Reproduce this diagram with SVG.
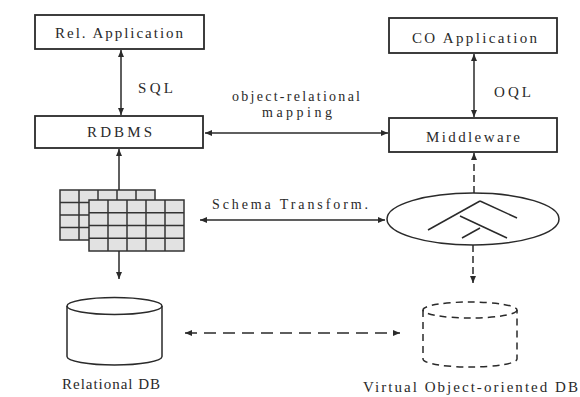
<svg xmlns="http://www.w3.org/2000/svg" width="580" height="397" viewBox="0 0 580 397">
<style>
.box{fill:none;stroke:#2a2a2a;stroke-width:1.8}
.t{font-family:"Liberation Serif","DejaVu Serif",serif;font-size:15px;fill:#2a2a2a}
.s{font-size:14px}
.ln{stroke:#2a2a2a;stroke-width:1.5;fill:none}
.d{stroke-dasharray:12 7}
.dv{stroke-dasharray:7 4}
.grid{stroke:#333;stroke-width:1.5;fill:#e2e2e2}
.gl{stroke:#333;stroke-width:1.5}
</style>
<defs>
<marker id="ah" markerWidth="7" markerHeight="6" refX="7" refY="3" orient="auto-start-reverse" markerUnits="userSpaceOnUse">
<path d="M0,0 L7,3 L0,6 z" fill="#2a2a2a"/>
</marker>
</defs>
<rect width="580" height="397" fill="#ffffff"/>

<g id="rel-app">
<rect class="box" x="35" y="15" width="169" height="34"/>
<text class="t" x="55" y="38" textLength="128" lengthAdjust="spacing">Rel. Application</text>
</g>
<g id="rdbms">
<rect class="box" x="35" y="116" width="168" height="32"/>
<text class="t" x="87" y="137" textLength="65" lengthAdjust="spacing">RDBMS</text>
</g>
<g id="co-app">
<rect class="box" x="389" y="18" width="168" height="35"/>
<text class="t" x="412" y="43" textLength="125" lengthAdjust="spacing">CO Application</text>
</g>
<g id="middleware">
<rect class="box" x="389" y="118" width="168" height="34"/>
<text class="t" x="426" y="142" textLength="94" lengthAdjust="spacing">Middleware</text>
</g>

<g id="tables">
<rect class="grid" x="60" y="190" width="95" height="50"/>
<line class="gl" x1="79" y1="190" x2="79" y2="240"/>
<line class="gl" x1="98" y1="190" x2="98" y2="240"/>
<line class="gl" x1="117" y1="190" x2="117" y2="240"/>
<line class="gl" x1="136" y1="190" x2="136" y2="240"/>
<line class="gl" x1="60" y1="202.5" x2="155" y2="202.5"/>
<line class="gl" x1="60" y1="215" x2="155" y2="215"/>
<line class="gl" x1="60" y1="227.5" x2="155" y2="227.5"/>
<rect class="grid" x="89" y="200" width="95" height="51"/>
<line class="gl" x1="108" y1="200" x2="108" y2="251"/>
<line class="gl" x1="127" y1="200" x2="127" y2="251"/>
<line class="gl" x1="146" y1="200" x2="146" y2="251"/>
<line class="gl" x1="165" y1="200" x2="165" y2="251"/>
<line class="gl" x1="89" y1="212.75" x2="184" y2="212.75"/>
<line class="gl" x1="89" y1="225.5" x2="184" y2="225.5"/>
<line class="gl" x1="89" y1="238.25" x2="184" y2="238.25"/>
</g>

<g id="object-model">
<ellipse cx="473" cy="219" rx="86" ry="26" class="ln"/>
<line class="ln" x1="480" y1="201" x2="428" y2="230"/>
<line class="ln" x1="480" y1="201" x2="517" y2="218"/>
<line class="ln" x1="460" y1="216" x2="507" y2="238"/>
<line class="ln" x1="462" y1="238" x2="480" y2="228"/>
</g>

<g id="relational-db">
<path class="ln" d="M67,306 L67,356.5 A47.5,8.5 0 0 0 162,356.5 L162,306"/>
<ellipse class="ln" cx="114.5" cy="306" rx="47.5" ry="8.5"/>
<text class="t" x="62" y="389" textLength="98" lengthAdjust="spacing">Relational DB</text>
</g>

<g id="virtual-db">
<path class="ln" style="stroke-dasharray:7 5" d="M423,310 L423,359 A47,8 0 0 0 517,359 L517,310"/>
<ellipse class="ln" style="stroke-dasharray:7 5" cx="470" cy="310" rx="47" ry="8"/>
<text class="t" x="363" y="392" textLength="215" lengthAdjust="spacing">Virtual Object-oriented DB</text>
</g>

<g id="connectors">
<line class="ln" x1="121" y1="50" x2="121" y2="115" marker-start="url(#ah)" marker-end="url(#ah)"/>
<text class="t" x="138" y="93" textLength="35" lengthAdjust="spacing">SQL</text>
<line class="ln" x1="474" y1="54" x2="474" y2="117" marker-start="url(#ah)" marker-end="url(#ah)"/>
<text class="t" x="494" y="97" textLength="37" lengthAdjust="spacing">OQL</text>
<line class="ln" x1="205" y1="133" x2="388" y2="133" marker-start="url(#ah)" marker-end="url(#ah)"/>
<text class="t s" x="232" y="101" textLength="128" lengthAdjust="spacing">object-relational</text>
<text class="t s" x="262" y="117" textLength="70" lengthAdjust="spacing">mapping</text>
<line class="ln" x1="119" y1="190" x2="119" y2="149" marker-end="url(#ah)"/>
<line class="ln" x1="119" y1="251" x2="119" y2="279" marker-end="url(#ah)"/>
<line class="ln" x1="200" y1="220" x2="385" y2="220" marker-start="url(#ah)" marker-end="url(#ah)"/>
<text class="t s" x="212" y="209" textLength="156" lengthAdjust="spacing">Schema Transform.</text>
<line class="ln dv" x1="474" y1="193" x2="474" y2="153" marker-end="url(#ah)"/>
<line class="ln dv" x1="473" y1="245" x2="473" y2="283" marker-end="url(#ah)"/>
<line class="ln d" x1="185" y1="333" x2="400" y2="333" marker-start="url(#ah)" marker-end="url(#ah)"/>
</g>
</svg>
